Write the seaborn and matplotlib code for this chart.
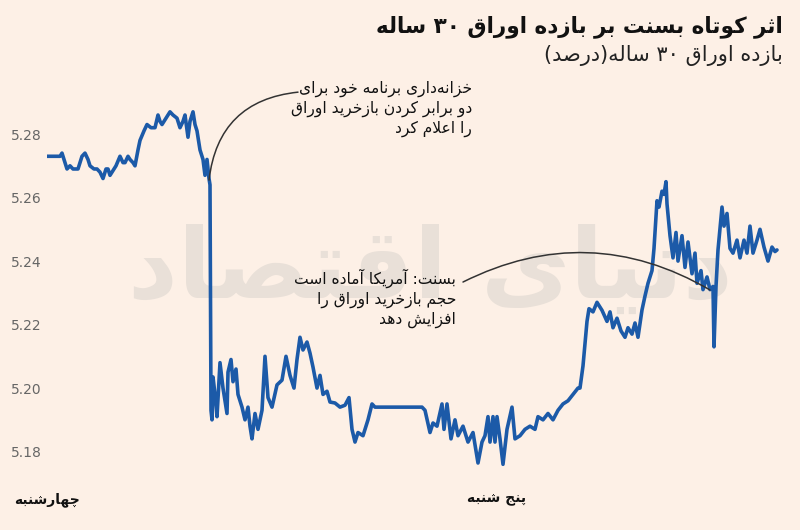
import re
import numpy as np
import pandas as pd
import matplotlib
matplotlib.use('Agg')
import matplotlib.pyplot as plt
import seaborn as sns

# minutes since the start of the chart (wednesday session onwards)
minutes = [0, 16, 26, 30, 36, 40, 46, 52, 62, 70,
           76, 82, 86, 94, 100, 106, 112, 118, 122, 126,
           130, 138, 146, 152, 156, 162, 166, 172, 176, 182,
           186, 194, 200, 208, 216, 222, 226, 230, 238, 246,
           252, 260, 266, 272, 276, 282, 286, 292, 296, 300,
           306, 312, 316, 320, 324, 326, 328, 330, 332, 336,
           340, 346, 352, 356, 360, 362, 368, 372, 378, 382,
           390, 396, 402, 406, 410, 416, 422, 430, 436, 442,
           450, 460, 470, 478, 486, 494, 500, 506, 512, 520,
           526, 532, 540, 546, 552, 560, 566, 576, 586, 596,
           604, 610, 616, 622, 632, 642, 650, 656, 750, 756,
           766, 772, 780, 790, 794, 800, 808, 816, 822, 832,
           842, 852, 862, 870, 876, 882, 886, 892, 896, 900,
           906, 912, 920, 930, 936, 946, 956, 966, 976, 982,
           992, 1002, 1012, 1022, 1032, 1042, 1052, 1062, 1066, 1072,
           1080, 1084, 1092, 1100, 1110, 1120, 1126, 1132, 1140, 1148,
           1156, 1162, 1170, 1176, 1182, 1190, 1196, 1202, 1210, 1214,
           1220, 1224, 1230, 1234, 1238, 1240, 1246, 1252, 1258, 1262,
           1270, 1276, 1282, 1290, 1296, 1300, 1308, 1312, 1320, 1326,
           1332, 1334, 1338, 1342, 1350, 1354, 1360, 1366, 1372, 1380,
           1386, 1394, 1400, 1406, 1412, 1420, 1426, 1434, 1442, 1450,
           1456, 1460]

# 30-year treasury yield, percent
yields = [5.273, 5.273, 5.273, 5.274, 5.271, 5.269, 5.270, 5.269, 5.269, 5.273,
          5.274, 5.272, 5.270, 5.269, 5.269, 5.268, 5.266, 5.269, 5.269, 5.267,
          5.268, 5.270, 5.273, 5.271, 5.271, 5.273, 5.272, 5.271, 5.270, 5.275,
          5.278, 5.281, 5.283, 5.282, 5.282, 5.286, 5.284, 5.283, 5.285, 5.287,
          5.286, 5.285, 5.282, 5.284, 5.286, 5.279, 5.284, 5.287, 5.283, 5.281,
          5.275, 5.272, 5.267, 5.272, 5.266, 5.264, 5.193, 5.190, 5.2035, 5.198,
          5.191, 5.208, 5.200, 5.196, 5.192, 5.205, 5.209, 5.202, 5.206, 5.198,
          5.194, 5.190, 5.194, 5.188, 5.184, 5.192, 5.187, 5.193, 5.210, 5.197,
          5.194, 5.201, 5.2025, 5.210, 5.204, 5.200, 5.209, 5.216, 5.212, 5.2145,
          5.211, 5.2066, 5.200, 5.204, 5.198, 5.199, 5.1956, 5.1953, 5.194, 5.1946,
          5.197, 5.187, 5.183, 5.186, 5.185, 5.190, 5.195, 5.194, 5.194, 5.193,
          5.186, 5.189, 5.188, 5.195, 5.187, 5.195, 5.184, 5.190, 5.185, 5.188,
          5.183, 5.186, 5.1764, 5.183, 5.185, 5.191, 5.183, 5.191, 5.183, 5.191,
          5.184, 5.176, 5.187, 5.194, 5.184, 5.185, 5.187, 5.188, 5.187, 5.191,
          5.190, 5.192, 5.190, 5.193, 5.195, 5.196, 5.198, 5.200, 5.200, 5.207,
          5.221, 5.225, 5.224, 5.227, 5.2245, 5.221, 5.224, 5.219, 5.222, 5.218,
          5.216, 5.219, 5.217, 5.2205, 5.216, 5.2246, 5.229, 5.233, 5.237, 5.244,
          5.259, 5.257, 5.262, 5.261, 5.265, 5.258, 5.248, 5.241, 5.249, 5.240,
          5.248, 5.238, 5.246, 5.236, 5.2425, 5.233, 5.237, 5.231, 5.235, 5.231,
          5.232, 5.213, 5.232, 5.2435, 5.257, 5.251, 5.255, 5.244, 5.2425, 5.2466,
          5.241, 5.2466, 5.2425, 5.251, 5.2425, 5.2466, 5.250, 5.2444, 5.240, 5.2444,
          5.243, 5.2435]

day_ticks = [0, 900]
day_names = ['چهارشنبه', 'پنج شنبه']
y_ticks = [5.18, 5.20, 5.22, 5.24, 5.26, 5.28]

title = 'اثر کوتاه بسنت بر بازده اوراق ۳۰ ساله'
subtitle = 'بازده اوراق ۳۰ ساله(درصد)'
note_treasury = ['خزانه\u200cداری برنامه خود برای', 'دو برابر کردن بازخرید اوراق', 'را اعلام کرد']
note_bessent = ['بسنت: آمریکا آماده است', 'حجم بازخرید اوراق را', 'افزایش دهد']
watermark = 'دنیای اقتصاد'

# matplotlib 3.10 does no arabic shaping, so pick presentation forms by hand
# isolated, final, initial, medial
FORMS = {
    'ا': ('\uFE8D', '\uFE8E', None, None),
    'آ': ('\uFE81', '\uFE82', None, None),
    'ب': ('\uFE8F', '\uFE90', '\uFE91', '\uFE92'),
    'پ': ('\uFB56', '\uFB57', '\uFB58', '\uFB59'),
    'ت': ('\uFE95', '\uFE96', '\uFE97', '\uFE98'),
    'ث': ('\uFE99', '\uFE9A', '\uFE9B', '\uFE9C'),
    'ج': ('\uFE9D', '\uFE9E', '\uFE9F', '\uFEA0'),
    'چ': ('\uFB7A', '\uFB7B', '\uFB7C', '\uFB7D'),
    'ح': ('\uFEA1', '\uFEA2', '\uFEA3', '\uFEA4'),
    'خ': ('\uFEA5', '\uFEA6', '\uFEA7', '\uFEA8'),
    'د': ('\uFEA9', '\uFEAA', None, None),
    'ذ': ('\uFEAB', '\uFEAC', None, None),
    'ر': ('\uFEAD', '\uFEAE', None, None),
    'ز': ('\uFEAF', '\uFEB0', None, None),
    'ژ': ('\uFB8A', '\uFB8B', None, None),
    'س': ('\uFEB1', '\uFEB2', '\uFEB3', '\uFEB4'),
    'ش': ('\uFEB5', '\uFEB6', '\uFEB7', '\uFEB8'),
    'ص': ('\uFEB9', '\uFEBA', '\uFEBB', '\uFEBC'),
    'ض': ('\uFEBD', '\uFEBE', '\uFEBF', '\uFEC0'),
    'ط': ('\uFEC1', '\uFEC2', '\uFEC3', '\uFEC4'),
    'ظ': ('\uFEC5', '\uFEC6', '\uFEC7', '\uFEC8'),
    'ع': ('\uFEC9', '\uFECA', '\uFECB', '\uFECC'),
    'غ': ('\uFECD', '\uFECE', '\uFECF', '\uFED0'),
    'ف': ('\uFED1', '\uFED2', '\uFED3', '\uFED4'),
    'ق': ('\uFED5', '\uFED6', '\uFED7', '\uFED8'),
    'ک': ('\uFB8E', '\uFB8F', '\uFB90', '\uFB91'),
    'گ': ('\uFB92', '\uFB93', '\uFB94', '\uFB95'),
    'ل': ('\uFEDD', '\uFEDE', '\uFEDF', '\uFEE0'),
    'م': ('\uFEE1', '\uFEE2', '\uFEE3', '\uFEE4'),
    'ن': ('\uFEE5', '\uFEE6', '\uFEE7', '\uFEE8'),
    'و': ('\uFEED', '\uFEEE', None, None),
    'ه': ('\uFEE9', '\uFEEA', '\uFEEB', '\uFEEC'),
    'ی': ('\uFBFC', '\uFBFD', '\uFBFE', '\uFBFF'),
}
LAM_ALEF = {'ا': ('\uFEFB', '\uFEFC'), 'آ': ('\uFEF5', '\uFEF6')}


def joins_next(ch):
    return ch in FORMS and FORMS[ch][2] is not None


def fa(text):
    out = []
    i = 0
    n = len(text)
    while i < n:
        ch = text[i]
        if ch not in FORMS:
            out.append(ch)
            i += 1
            continue
        linked_prev = i > 0 and joins_next(text[i - 1])
        if ch == 'ل' and i + 1 < n and text[i + 1] in LAM_ALEF:
            iso, fin = LAM_ALEF[text[i + 1]]
            out.append(fin if linked_prev else iso)
            i += 2
            continue
        nxt = text[i + 1] if i + 1 < n else ''
        linked_next = joins_next(ch) and nxt in FORMS
        iso, fin, ini, med = FORMS[ch]
        if linked_prev and linked_next:
            out.append(med)
        elif linked_prev:
            out.append(fin)
        elif linked_next:
            out.append(ini)
        else:
            out.append(iso)
        i += 1
    s = ''.join(out).replace('\u200c', '')
    # right-to-left into visual order, numbers stay left-to-right
    tokens = re.findall(r'[0-9\u06F0-\u06F9]+|.', s)
    vis = ''.join(reversed(tokens))
    return vis.translate(str.maketrans('()', ')('))


bg = '#FDF0E6'
blue = '#1C5AA8'

sns.set_theme(style='white')
plt.rcParams['font.family'] = ['DejaVu Sans']

df = pd.DataFrame({'minute': minutes, 'yield': yields})

fig = plt.figure(figsize=(8, 5.3), dpi=100, facecolor=bg)
ax = fig.add_axes([47 / 800, 60 / 530, 738 / 800, 375 / 530])
ax.set_facecolor(bg)

# faint site watermark behind the line
ax.text(0.52, 0.53, fa(watermark), transform=ax.transAxes, fontsize=70,
        fontweight='bold', color='#E9E0D8', ha='center', va='center', zorder=0)

sns.lineplot(data=df, x='minute', y='yield', ax=ax, color=blue, linewidth=2.6,
             sort=False, estimator=None, zorder=3)

ax.set_xlim(0, 1476)
ax.set_ylim(5.1742, 5.2923)
ax.set_yticks(y_ticks)
ax.set_yticklabels([f'{v:.2f}' for v in y_ticks], fontsize=10, color='#666666')
ax.set_xticks(day_ticks)
ax.set_xticklabels([fa(d) for d in day_names], fontsize=10, fontweight='bold', color='#111111')
ax.tick_params(axis='y', length=0, pad=4)
ax.tick_params(axis='x', length=0, pad=16)
ax.set_xlabel('')
ax.set_ylabel('')
sns.despine(ax=ax, left=True, bottom=True)

# title block
fig.text(783 / 800, 1 - 27 / 530, fa(title), fontsize=15.5, fontweight='bold',
         color='#111111', ha='right', va='center')
fig.text(783 / 800, 1 - 56 / 530, fa(subtitle), fontsize=15,
         color='#222222', ha='right', va='center')

# notes
fig.text(472 / 800, 1 - 81 / 530, '\n'.join(fa(l) for l in note_treasury), fontsize=11.2,
         color='#111111', ha='right', va='top', multialignment='right', linespacing=1.3)
fig.text(456 / 800, 1 - 269 / 530, '\n'.join(fa(l) for l in note_bessent), fontsize=11.2,
         color='#111111', ha='right', va='top', multialignment='right', linespacing=1.3)

ax.annotate('', xy=(324, 5.2655), xytext=(502, 5.2932), annotation_clip=False,
            arrowprops=dict(arrowstyle='-', color='#333333', lw=1.1,
                            connectionstyle='arc3,rad=0.4', shrinkA=0, shrinkB=0))
ax.annotate('', xy=(1326, 5.2309), xytext=(832, 5.2334), annotation_clip=False,
            arrowprops=dict(arrowstyle='-', color='#333333', lw=1.1,
                            connectionstyle='arc3,rad=-0.27', shrinkA=0, shrinkB=0))

fig.savefig('out.png', dpi=100, facecolor=bg)
